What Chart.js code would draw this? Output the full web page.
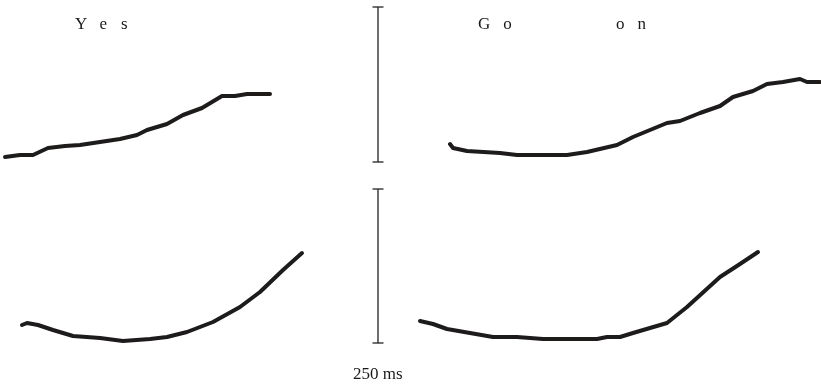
<!DOCTYPE html>
<html>
<head>
<meta charset="utf-8">
<script src="https://cdn.jsdelivr.net/npm/chart.js@4/dist/chart.umd.min.js"></script>
<style>
  html, body { margin: 0; padding: 0; background: #fff; }
  #wrap { position: relative; width: 821px; height: 387px; }
  .lbl { position: absolute; font-family: "Liberation Serif", "Times New Roman", serif; font-size: 17px; color: #1a1a1a; white-space: pre; line-height: 1; }
</style>
</head>
<body>
<div id="wrap">
  <canvas id="pitchChart" width="821" height="387"></canvas>
  <span class="lbl" style="left:75px; top:15px; letter-spacing:14px;">Yes</span>
  <span class="lbl" style="left:478px; top:15px; letter-spacing:13px; word-spacing:74px;">Go on</span>
  <span class="lbl" style="left:353px; top:365px;">250 ms</span>
</div>
<script>
// time (x) and pitch (y), one pair per utterance
const yesTime = [5, 20, 33, 48, 65, 80, 100, 120, 137, 147, 167, 183, 202, 222, 235, 247, 270];
const yesPitch = [230, 232, 232, 239, 241, 242, 245, 248, 252, 257, 263, 272, 279, 291, 291, 293, 293];

const goOnTime = [450, 453, 467, 500, 517, 567, 587, 617, 633, 667, 680, 700, 720, 733, 753, 767, 783, 800, 807, 820];
const goOnPitch = [243, 239, 236, 234, 232, 232, 235, 242, 250, 264, 266, 274, 281, 290, 296, 303, 305, 308, 305, 305];

const yesQTime = [22, 27, 38, 53, 73, 100, 123, 150, 167, 187, 213, 240, 260, 283, 302];
const yesQPitch = [62, 64, 62, 57, 51, 49, 46, 48, 50, 55, 65, 80, 95, 117, 134];

const goOnQTime = [420, 433, 447, 470, 493, 517, 543, 597, 607, 620, 633, 667, 687, 720, 740, 758];
const goOnQPitch = [66, 63, 58, 54, 50, 50, 48, 48, 50, 50, 54, 64, 80, 110, 123, 135];

// vertical range bars between the panels
const barTime = [378, 378];
const topBarPitch = [380, 225];
const bottomBarPitch = [198, 44];

const toPoints = (xs, ys) => xs.map((x, i) => ({ x: x, y: ys[i] }));

const contour = (xs, ys) => ({
  data: toPoints(xs, ys),
  borderColor: "#1e1b1b",
  borderWidth: 4,
  pointRadius: 0,
  tension: 0,
  borderCapStyle: "round",
  borderJoinStyle: "round",
});

const bar = (xs, ys) => ({
  data: toPoints(xs, ys),
  borderColor: "#222",
  borderWidth: 1.3,
  pointStyle: "line",
  pointRadius: 5.5,
  pointBorderColor: "#222",
  pointBorderWidth: 1.3,
  tension: 0,
});

const ctx = document.getElementById("pitchChart");
new Chart(ctx, {
  type: "line",
  data: {
    datasets: [
      contour(yesTime, yesPitch),
      contour(goOnTime, goOnPitch),
      contour(yesQTime, yesQPitch),
      contour(goOnQTime, goOnQPitch),
      bar(barTime, topBarPitch),
      bar(barTime, bottomBarPitch),
    ],
  },
  options: {
    responsive: false,
    animation: false,
    clip: false,
    layout: { padding: 0, autoPadding: false },
    plugins: { legend: { display: false }, tooltip: { enabled: false } },
    scales: {
      x: { type: "linear", min: 0, max: 821, display: false },
      y: { type: "linear", min: 0, max: 387, display: false },
    },
  },
});
</script>
</body>
</html>
